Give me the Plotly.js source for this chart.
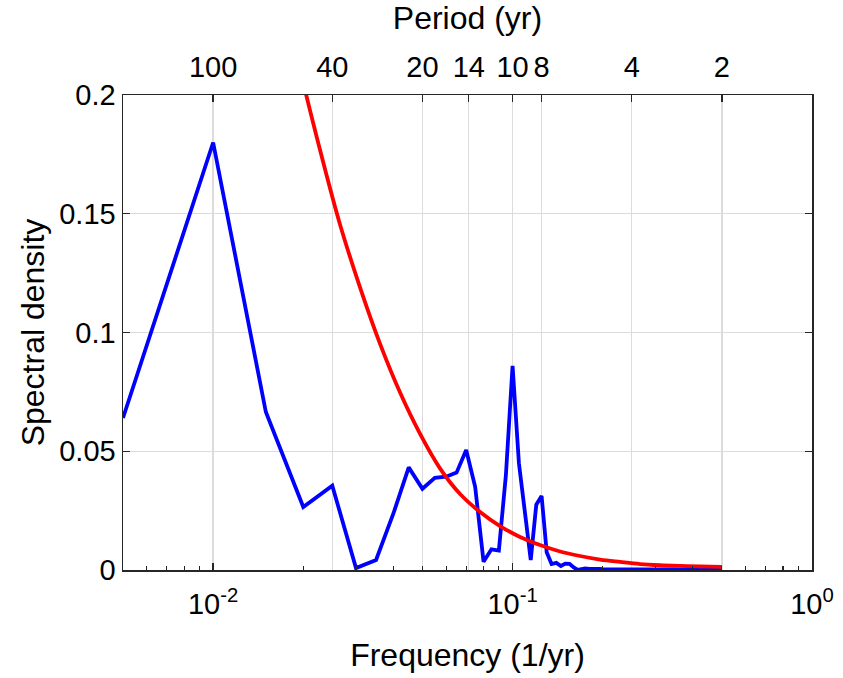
<!DOCTYPE html>
<html>
<head>
<meta charset="utf-8">
<script src="https://cdn.plot.ly/plotly-3.0.1.min.js"></script>
<style>html,body{margin:0;padding:0;background:#fff;}#chart{width:843px;height:678px;}</style>
</head>
<body>
<div id="chart"></div>
<script>
// Blue spectrum: frequency (1/yr) and spectral density
const freq = [
  0.005,0.010,0.015,0.020,0.025,0.030,0.035,0.040,0.045,0.050,
  0.055,0.060,0.065,0.070,0.075,0.080,0.085,0.090,0.095,0.100,
  0.105,0.110,0.115,0.120,0.125,0.130,0.135,0.140,0.145,0.150,
  0.155,0.160,0.165,0.170,0.175,0.180,0.185,0.190,0.195,0.200,
  0.205,0.210,0.215,0.220,0.225,0.230,0.235,0.240,0.245,0.250,
  0.255,0.260,0.265,0.270,0.275,0.280,0.285,0.290,0.295,0.300,
  0.305,0.310,0.315,0.320,0.325,0.330,0.335,0.340,0.345,0.350,
  0.355,0.360,0.365,0.370,0.375,0.380,0.385,0.390,0.395,0.400,
  0.405,0.410,0.415,0.420,0.425,0.430,0.435,0.440,0.445,0.450,
  0.455,0.460,0.465,0.470,0.475,0.480,0.485,0.490,0.495,0.500
];
const density = [
  0.0640,0.1800,0.0665,0.0265,0.0355,0.0008,0.0042,0.0238,0.0432,0.0342,
  0.0388,0.0393,0.0410,0.0505,0.0350,0.0035,0.0087,0.0082,0.0400,0.0860,
  0.0450,0.0250,0.0042,0.0275,0.0312,0.0075,0.0025,0.0030,0.0017,0.0027,
  0.0026,0.0011,0.0001,0.0004,0.0007,0.0005,0.0006,0.0004,0.0005,0.0004,
  0.0004,0.0003,0.0005,0.0003,0.0004,0.0003,0.0004,0.0002,0.0004,0.0003,
  0.0003,0.0002,0.0003,0.0002,0.0003,0.0002,0.0003,0.0002,0.0002,0.0003,
  0.0002,0.0001,0.0002,0.0002,0.0001,0.0002,0.0001,0.0002,0.0001,0.0002,
  0.0001,0.0001,0.0002,0.0001,0.0001,0.0002,0.0001,0.0001,0.0001,0.0002,
  0.0001,0.0001,0.0001,0.0001,0.0002,0.0001,0.0001,0.0001,0.0001,0.0001,
  0.0001,0.0001,0.0001,0.0001,0.0001,0.0001,0.0001,0.0001,0.0001,0.0001
];
// Red reference curve
const redFreq = [0.0200,0.0228,0.0265,0.0310,0.0361,0.0421,0.0491,0.0573,0.0668,0.0779,0.0908,0.1059,0.1235,0.1441,0.1680,0.1960,0.2286,0.2666,0.3109,0.3626,0.4229,0.5000];
const redDensity = [0.2050,0.1764,0.1457,0.1187,0.0952,0.0747,0.0573,0.0427,0.0320,0.0244,0.0185,0.0139,0.0105,0.0078,0.0059,0.0044,0.0034,0.0025,0.0020,0.0017,0.0015,0.0013];
// Axes ticks
const bottomTickVals = [0.01, 0.1, 1];
const bottomTickText = ['10<sup>-2</sup>', '10<sup>-1</sup>', '10<sup>0</sup>'];
const minorTickVals = [0.006,0.007,0.008,0.009,0.02,0.03,0.04,0.05,0.06,0.07,0.08,0.09,0.2,0.3,0.4,0.5,0.6,0.7,0.8,0.9];
const periodLabels = ['100','40','20','14','10','8','4','2'];
const periodVals = [100, 40, 20, 14, 10, 8, 4, 2];
const periodFreq = periodVals.map(p => 1 / p);
const yTickVals = [0, 0.05, 0.1, 0.15, 0.2];
const yTickText = ['0', '0.05', '0.1', '0.15', '0.2'];

const FONT = 'Liberation Sans, Arial, Helvetica, sans-serif';
const axisColor = '#262626';
const gridColor = '#dcdcdc';

const traces = [
  {x: freq, y: density, type: 'scatter', mode: 'lines', line: {color: '#0000ff', width: 3.8}, xaxis: 'x', yaxis: 'y', hoverinfo: 'skip'},
  {x: redFreq, y: redDensity, type: 'scatter', mode: 'lines', line: {color: '#ff0000', width: 3.8, shape: 'spline', smoothing: 1}, xaxis: 'x', yaxis: 'y', hoverinfo: 'skip'},
  {x: [periodFreq[0]], y: [null], type: 'scatter', mode: 'lines', xaxis: 'x2', yaxis: 'y', showlegend: false, hoverinfo: 'skip'}
];

const layout = {
  width: 843, height: 678,
  margin: {l: 123, r: 31, t: 95, b: 108},
  paper_bgcolor: '#ffffff', plot_bgcolor: '#ffffff',
  showlegend: false,
  font: {family: FONT, color: '#000000', size: 29},
  xaxis: {
    type: 'log', range: [Math.log10(0.005), 0],
    tickmode: 'array', tickvals: bottomTickVals, ticktext: bottomTickText,
    ticks: 'inside', ticklen: 7, tickwidth: 1.3, tickcolor: axisColor,
    ticklabelstandoff: 8,
    minor: {tickmode: 'array', tickvals: minorTickVals, ticks: 'inside', ticklen: 4, tickwidth: 1.1, tickcolor: axisColor, showgrid: false},
    showgrid: false, zeroline: false,
    showline: true, linecolor: axisColor, linewidth: 1.5, mirror: false,
    tickfont: {family: FONT, size: 29, color: '#000'},
    title: {text: 'Frequency (1/yr)', font: {family: FONT, size: 32, color: '#000'}, standoff: 24},
    automargin: false
  },
  xaxis2: {
    type: 'log', range: [Math.log10(0.005), 0], overlaying: 'x', side: 'top', anchor: 'y',
    tickmode: 'array', tickvals: periodFreq, ticktext: periodLabels,
    ticks: 'inside', ticklen: 7, tickwidth: 1.3, tickcolor: axisColor,
    ticklabelstandoff: 5,
    showgrid: true, gridcolor: gridColor, gridwidth: 1.3, zeroline: false,
    showline: true, linecolor: axisColor, linewidth: 1.5,
    tickfont: {family: FONT, size: 29, color: '#000'},
    title: {text: 'Period (yr)', font: {family: FONT, size: 32, color: '#000'}, standoff: 12},
    automargin: false
  },
  yaxis: {
    range: [0, 0.2],
    tickmode: 'array', tickvals: yTickVals, ticktext: yTickText,
    ticks: 'inside', ticklen: 7, tickwidth: 1.3, tickcolor: axisColor,
    showgrid: true, gridcolor: gridColor, gridwidth: 1.3, zeroline: false,
    showline: true, linecolor: axisColor, linewidth: 1.5, mirror: 'ticks',
    tickfont: {family: FONT, size: 29, color: '#000'},
    title: {text: 'Spectral density', font: {family: FONT, size: 32, color: '#000'}, standoff: 5},
    automargin: false
  }
};

Plotly.newPlot('chart', traces, layout, {staticPlot: true, displayModeBar: false});
</script>
</body>
</html>
